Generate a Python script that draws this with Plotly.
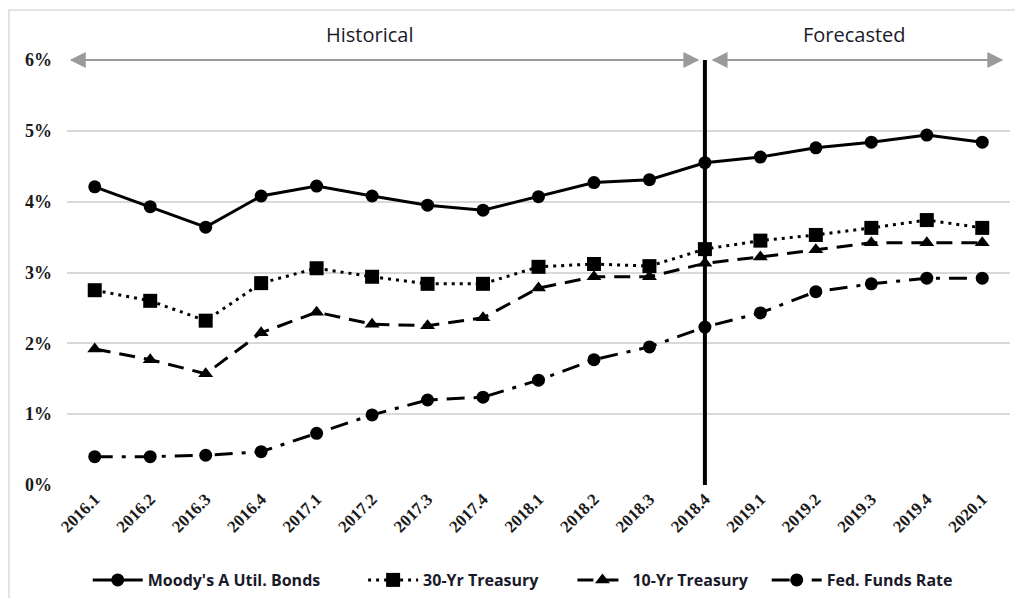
import plotly.graph_objects as go

quarters = ["2016.1", "2016.2", "2016.3", "2016.4", "2017.1", "2017.2", "2017.3", "2017.4",
            "2018.1", "2018.2", "2018.3", "2018.4", "2019.1", "2019.2", "2019.3", "2019.4", "2020.1"]
moodys = [4.21, 3.93, 3.64, 4.08, 4.22, 4.08, 3.95, 3.88, 4.07, 4.27, 4.31, 4.55, 4.63, 4.76, 4.84, 4.94, 4.84]
treas30 = [2.75, 2.60, 2.32, 2.85, 3.06, 2.94, 2.84, 2.84, 3.08, 3.12, 3.09, 3.33, 3.45, 3.53, 3.63, 3.74, 3.63]
treas10 = [1.92, 1.77, 1.57, 2.15, 2.44, 2.27, 2.25, 2.36, 2.78, 2.94, 2.94, 3.13, 3.22, 3.32, 3.42, 3.42, 3.42]
fedfunds = [0.40, 0.40, 0.42, 0.47, 0.73, 0.99, 1.20, 1.24, 1.48, 1.77, 1.95, 2.23, 2.43, 2.73, 2.84, 2.92, 2.92]
split_quarter = "2018.4"
y_ticks = [0, 1, 2, 3, 4, 5, 6]
y_labels = ["0%", "1%", "2%", "3%", "4%", "5%", "6%"]

fig = go.Figure()
series = [
    ("Moody's A Util. Bonds", moodys, "solid", "circle", 13),
    ("30-Yr Treasury", treas30, "3px,5px", "square", 14),
    ("10-Yr Treasury", treas10, "16px,9px", "triangle-up", 13),
    ("Fed. Funds Rate", fedfunds, "18px,9px,4px,9px", "circle", 13),
]
legend_ids = ["legend", "legend2", "legend3", "legend4"]
legend_x = [0.022, 0.314, 0.536, 0.742]
for (name, vals, dash, sym, sz), lid in zip(series, legend_ids):
    fig.add_trace(go.Scatter(
        x=quarters, y=vals, name=name, mode="lines+markers", legend=lid,
        line=dict(color="black", width=3, dash=dash),
        marker=dict(symbol=sym, size=sz, color="black"),
    ))

split_idx = quarters.index(split_quarter)
n = len(quarters)

fig.add_shape(type="line", xref="x", yref="y", x0=split_idx, x1=split_idx, y0=0, y1=6,
              line=dict(color="black", width=4))
# outer frame
fig.add_shape(type="rect", xref="paper", yref="paper", x0=-0.0615, x1=1.05, y0=-0.4, y1=1.1176,
              line=dict(color="#e3e3e3", width=2))

arrow_color = "#9a9a9a"
def dbl_arrow(x0, x1):
    for a, b in ((x0, x1), (x1, x0)):
        fig.add_annotation(x=b, y=6, ax=a, ay=6, xref="x", yref="y", axref="x", ayref="y",
                           text="", showarrow=True, arrowhead=2, arrowsize=1.6, arrowwidth=2,
                           arrowcolor=arrow_color)

dbl_arrow(-0.45, split_idx - 0.1)
dbl_arrow(split_idx + 0.12, n - 1 + 0.38)

fig.add_annotation(x=(split_idx - 0.5) / 2 - 0.3, y=6, xref="x", yref="y", yshift=26,
                   text="Historical", showarrow=False,
                   font=dict(family="Open Sans", size=20, color="#1a1a2a"))
fig.add_annotation(x=(split_idx + n - 1) / 2 + 0.2, y=6, xref="x", yref="y", yshift=26,
                   text="Forecasted", showarrow=False,
                   font=dict(family="Open Sans", size=20, color="#1a1a2a"))

legend_font = dict(family="Open Sans", size=16, color="#1a1a2a", weight="bold")
legend_layout = {}
for lid, lx in zip(legend_ids, legend_x):
    legend_layout[lid] = dict(orientation="h", x=lx, xanchor="left", y=-0.2235, yanchor="middle",
                              font=legend_font, itemwidth=50, bgcolor="rgba(0,0,0,0)")

fig.update_layout(
    width=1015, height=590,
    margin=dict(l=59, r=13, t=52, b=113, autoexpand=False),
    paper_bgcolor="white", plot_bgcolor="white",
    showlegend=True,
    xaxis=dict(type="category", range=[-0.5, n - 0.5], tickangle=-45, showgrid=False,
               showline=False, ticks="", zeroline=False, automargin=False,
               tickfont=dict(family="Liberation Serif", size=17, color="#1a1a1a", weight="bold")),
    yaxis=dict(range=[0, 6], tickvals=y_ticks, ticktext=y_labels, showgrid=True,
               gridcolor="#d9d9d9", gridwidth=1.5, zeroline=False, showline=False,
               ticks="", ticklabelstandoff=14, automargin=False,
               tickfont=dict(family="Liberation Serif", size=18, color="#1a1a1a", weight="bold")),
    **legend_layout,
)

fig.write_html("out.html")
